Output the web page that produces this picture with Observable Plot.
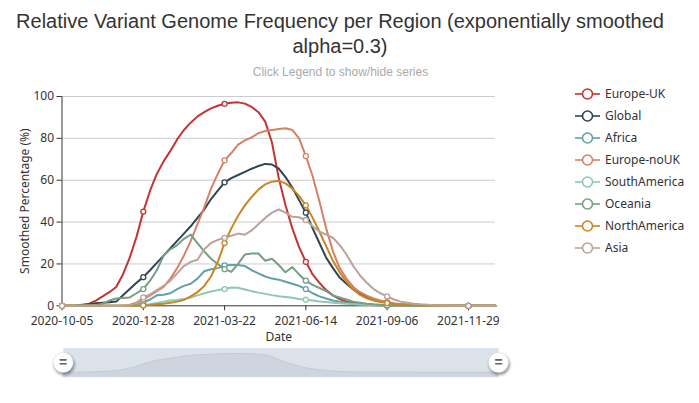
<!DOCTYPE html>
<html>
<head>
<meta charset="utf-8">
<script src="https://cdn.jsdelivr.net/npm/d3@7"></script>
<script src="https://cdn.jsdelivr.net/npm/@observablehq/plot@0.6"></script>
<style>
  body { margin: 0; background: #fff; }
  #wrap { position: relative; width: 699px; height: 403px; overflow: hidden; }
  #title { position: absolute; left: 0; top: 9px; width: 680px; text-align: center;
    font-family: "Liberation Sans", Arial, sans-serif; font-size: 20px; line-height: 25px; color: #333; }
  #subtitle { position: absolute; left: 0; top: 65px; width: 681px; text-align: center;
    font-family: "Liberation Sans", Arial, sans-serif; font-size: 12px; line-height: 14px; color: #aaa; }
  #chart, #slider, #legend { position: absolute; left: 0; }
  #chart { top: 0; }
  #slider { top: 340px; }
  #legend { top: 80px; }
</style>
</head>
<body>
<div id="wrap">
  <div id="chart"></div>
  <div id="slider"></div>
  <svg id="legend" width="699" height="185"></svg>
  <div id="title">Relative Variant Genome Frequency per Region (exponentially smoothed<br>alpha=0.3)</div>
  <div id="subtitle">Click Legend to show/hide series</div>
</div>
<script>
// Weekly sample dates (category axis of the chart)
const startDate = "2020-10-05";
const weekCount = 65;
const tickLabels = ["2020-10-05", "2020-12-28", "2021-03-22", "2021-06-14", "2021-09-06", "2021-11-29"];
const yTicks = [0, 20, 40, 60, 80, 100];

const regions = ["Europe-UK", "Global", "Africa", "Europe-noUK", "SouthAmerica", "Oceania", "NorthAmerica", "Asia"];
const colors  = ["#c23531", "#2f4554", "#61a0a8", "#d48265", "#91c7ae", "#749f83", "#ca8622", "#bda29a"];

// Smoothed percentage per region, one value per week
const europeUK = [
  0, 0, 0.1, 0.3, 1, 2.5, 4.5, 6.5, 9, 15,
  23, 33, 45, 55, 63, 69, 74, 79.5, 84, 87.5,
  90.5, 92.5, 94.3, 95.6, 96.5, 97, 97.2, 96.6, 95, 92.5,
  88, 78, 61, 48, 37, 28, 21, 15, 11, 7.5,
  5, 3.2, 2, 1.3, 0.9, 0.6, 0.4, 0.3, 0.2, 0.15,
  0.1, 0.1, 0.05, 0, 0, 0, 0, 0, 0, 0,
  0, 0, 0, 0, 0];
const global = [
  0, 0, 0.2, 0.5, 0.8, 1.2, 1.5, 1.7, 2, 5,
  8, 11, 13.7, 17, 20.5, 24, 27.5, 31, 34.5, 38,
  42, 46, 51, 55, 59, 61, 62.5, 64, 65.5, 66.8,
  67.8, 67.5, 65.5, 61.5, 56.5, 50.5, 44.5, 37, 30, 23,
  18, 13.5, 10.5, 7.8, 5.7, 4.2, 3.1, 2.2, 1.5, 1,
  0.7, 0.5, 0.3, 0.2, 0.15, 0.1, 0.05, 0, 0, 0,
  0, 0, 0, 0, 0];
const africa = [
  0, 0, 0, 0, 0, 0, 0, 0, 0, 0,
  0, 0.5, 1.5, 3, 5, 5.3, 6, 8, 9.5, 10.5,
  13, 16.5, 17.5, 18, 19.3, 19.5, 19.5, 19, 17, 15.5,
  14, 13, 12.5, 11.5, 10.5, 9.5, 8, 6, 4.5, 3.5,
  2.5, 2, 1.5, 1, 0.7, 0.5, 0.3, 0.2, 0.1, 0.1,
  0.05, 0, 0, 0, 0, 0, 0, 0, 0, 0,
  0, 0, 0, 0, 0];
const europeNoUK = [
  0, 0, 0, 0, 0, 0, 0, 0, 0, 0,
  0.5, 1.5, 3, 5, 7, 9, 13, 18, 24, 31,
  39, 47, 56, 63, 69.5, 73, 77, 79, 80.5, 82.5,
  83.5, 84, 84.5, 84.8, 84, 80, 71.5, 62, 50, 37,
  26, 18, 13, 9, 6.5, 4.8, 3.5, 2.5, 1.8, 1.2,
  0.8, 0.5, 0.3, 0.2, 0.1, 0.05, 0, 0, 0, 0,
  0, 0, 0, 0, 0];
const southAmerica = [
  0, 0, 0, 0, 0, 0, 0, 0, 0, 0,
  0, 0, 0.3, 0.8, 1.3, 2, 2.5, 2.8, 3.2, 4,
  5, 6, 6.8, 7.5, 8, 8.7, 8.6, 7.8, 7, 6.3,
  5.7, 5.1, 4.6, 4.2, 3.8, 3.3, 2.9, 2.5, 2.1, 1.8,
  1.5, 1.2, 1, 0.8, 0.6, 0.5, 0.4, 0.3, 0.2, 0.1,
  0.1, 0.05, 0, 0, 0, 0, 0, 0, 0, 0,
  0, 0, 0, 0, 0];
const oceania = [
  0, 0, 0, 0, 0, 0.3, 1, 2.5, 3.5, 3.7,
  4, 6, 8, 12, 17, 24, 27, 29, 32, 34,
  30, 26, 22.5, 20, 17.5, 16.2, 20, 24.5, 25, 25,
  21.5, 22.5, 19.5, 16, 18.5, 15, 12, 10, 8.5, 7,
  5, 4, 3, 2, 1.5, 1, 0.7, 0.5, 0.3, 0.2,
  0.1, 0.05, 0, 0, 0, 0, 0, 0, 0, 0,
  0, 0, 0, 0, 0];
const northAmerica = [
  0, 0, 0, 0, 0, 0, 0, 0, 0, 0,
  0, 0, 0.2, 0.4, 0.7, 1, 1.5, 2, 2.8, 4.5,
  6.5, 9.5, 14, 21, 30, 37, 43, 48, 52, 55.5,
  58, 59.3, 59.7, 58.5, 56, 52.5, 48, 42, 35.5, 28.5,
  21.5, 16, 11.5, 7.8, 5.2, 3.6, 2.5, 1.8, 1.3, 0.9,
  0.6, 0.4, 0.3, 0.2, 0.1, 0.1, 0.05, 0, 0, 0,
  0, 0, 0, 0, 0];
const asia = [
  0, 0, 0, 0, 0, 0, 0, 0, 0, 0,
  0.3, 1.5, 4, 5.5, 7.5, 9.5, 12, 15.5, 19, 21,
  22, 27, 30, 31.5, 32.5, 33.5, 34.5, 34, 36, 39,
  42, 44.5, 46, 44.5, 42.5, 42.3, 41, 38, 35.5, 34,
  32.5, 29, 24.5, 19, 14.5, 11, 8, 6, 4.5, 3,
  2, 1.5, 1, 0.7, 0.5, 0.3, 0.2, 0.1, 0.05, 0,
  0, 0, 0, 0, 0];

const seriesValues = [europeUK, global, africa, europeNoUK, southAmerica, oceania, northAmerica, asia];

const parseDate = d3.utcParse("%Y-%m-%d");
const fmt = d3.utcFormat("%Y-%m-%d");
const start = parseDate(startDate);
const dates = d3.range(weekCount).map(i => d3.utcDay.offset(start, 7 * i));
const tickDates = tickLabels.map(parseDate);

const rows = [];
regions.forEach((region, s) => {
  seriesValues[s].forEach((value, i) => rows.push({region, date: dates[i], value, i}));
});
// symbols are shown every 12th week
const symbolRows = rows.filter(d => d.i % 12 === 0);

const chart = Plot.plot({
  width: 699,
  height: 345,
  marginLeft: 61.5,
  marginRight: 204,
  marginTop: 96,
  marginBottom: 39.7,
  style: {fontFamily: "'Noto Sans', sans-serif", fontSize: "12px", color: "#333", background: "transparent", overflow: "visible"},
  x: {type: "utc", domain: [dates[0], dates[dates.length - 1]]},
  y: {domain: [0, 100]},
  color: {domain: regions, range: colors},
  marks: [
    Plot.gridY(yTicks.filter(d => d > 0), {stroke: "#ccc", strokeOpacity: 1}),
    Plot.ruleY([0], {stroke: "#333"}),
    Plot.ruleX([dates[0]], {stroke: "#333"}),
    Plot.axisX(tickDates, {tickFormat: fmt, tickSize: 5, tickPadding: 6, label: null, fontSize: 12}),
    Plot.axisY(yTicks, {tickSize: 5, tickPadding: 3, label: null, fontSize: 12}),
    Plot.line(rows, {x: "date", y: "value", z: "region", stroke: "region", strokeWidth: 2, curve: "linear"}),
    Plot.dot(symbolRows, {x: "date", y: "value", stroke: "region", fill: "white", r: 2.5, strokeWidth: 1.3}),
    Plot.text(["Date"], {frameAnchor: "bottom", lineAnchor: "middle", dy: 31, fontSize: 12, fill: "#333"}),
    Plot.text(["Smoothed Percentage (%)"], {frameAnchor: "left", dx: -37, rotate: -90, textAnchor: "middle", fontSize: 12, fill: "#333"})
  ]
});
document.getElementById("chart").appendChild(chart);

// Range slider with the first series as its shadow
const shadowRows = europeUK.map((value, i) => ({date: dates[i], value}));
const slider = Plot.plot({
  width: 699,
  height: 45,
  marginLeft: 62.7,
  marginRight: 201,
  marginTop: 7.5,
  marginBottom: 8.3,
  style: {background: "transparent", overflow: "visible", fontFamily: "'Liberation Sans', sans-serif"},
  x: {type: "utc", domain: [dates[0], dates[dates.length - 1]], axis: null},
  y: {domain: [-26, 125.8], axis: null},
  marks: [
    Plot.frame({fill: "#dce2ea", stroke: "none"}),
    Plot.areaY(shadowRows, {x: "date", y1: -26, y2: "value", fill: "#ced5df"}),
    Plot.lineY(shadowRows, {x: "date", y: "value", stroke: "#c2c9d3", strokeWidth: 0.8}),
    Plot.dot([0], {frameAnchor: "left", r: 10, fill: "white", stroke: "#ddd", strokeWidth: 0.5}),
    Plot.dot([0], {frameAnchor: "right", r: 10, fill: "white", stroke: "#ddd", strokeWidth: 0.5}),
    Plot.text([0], {frameAnchor: "left", text: () => "=", fontSize: 14, fontWeight: "bold", fill: "#666", textAnchor: "middle"}),
    Plot.text([0], {frameAnchor: "right", text: () => "=", fontSize: 14, fontWeight: "bold", fill: "#666", textAnchor: "middle"})
  ]
});
d3.select(slider).selectAll("g[aria-label=dot] circle")
  .style("filter", "drop-shadow(1px 2px 1.5px rgba(0,0,0,0.45))");
document.getElementById("slider").appendChild(slider);

// Legend: line + hollow circle + label per region
const legend = d3.select("#legend");
regions.forEach((region, k) => {
  const y = 14 + k * 22;
  const g = legend.append("g").attr("transform", `translate(0,${y})`);
  g.append("line").attr("x1", 575).attr("x2", 600).attr("y1", 0).attr("y2", 0)
    .attr("stroke", colors[k]).attr("stroke-width", 1.6);
  g.append("circle").attr("cx", 587.5).attr("cy", 0).attr("r", 5)
    .attr("fill", "white").attr("stroke", colors[k]).attr("stroke-width", 1.6);
  g.append("text").attr("x", 605).attr("y", 0).attr("dy", "0.35em")
    .attr("font-family", "'Noto Sans', sans-serif").attr("font-size", 12).attr("fill", "#333")
    .text(region);
});
</script>
</body>
</html>
